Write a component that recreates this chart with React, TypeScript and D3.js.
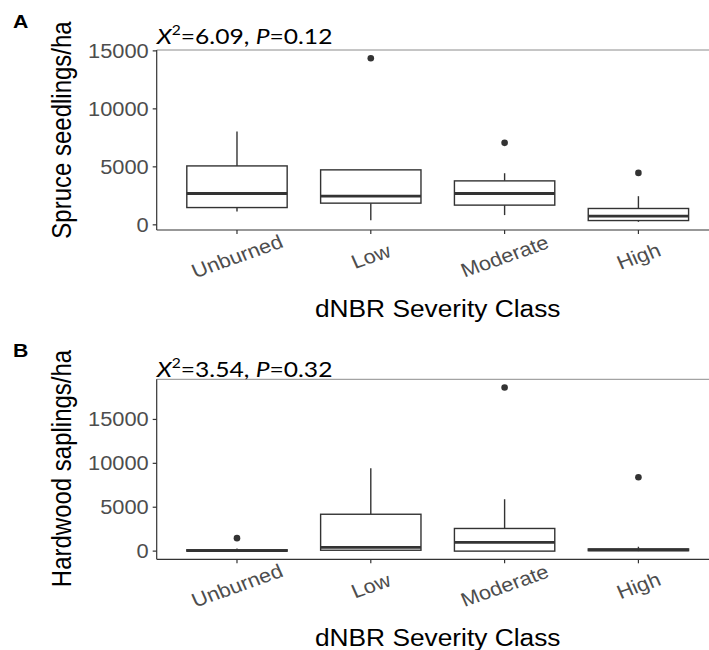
import React from "react";
import * as d3 from "d3";

const categories = ["Unburned", "Low", "Moderate", "High"];

const spruceLower = [1150, 400, 840, 260];
const spruceQ1 = [1490, 1870, 1700, 370];
const spruceMedian = [2700, 2470, 2700, 750];
const spruceQ3 = [5080, 4740, 3790, 1410];
const spruceUpper = [8040, 4740, 4450, 2470];
const spruceOutliers: number[][] = [[], [14370], [7070], [4480]];

const hardLower = [0, 0, 0, 0];
const hardQ1 = [0, 100, 0, 50];
const hardMedian = [50, 420, 990, 150];
const hardQ3 = [150, 4200, 2580, 250];
const hardUpper = [300, 9430, 5910, 500];
const hardOutliers: number[][] = [[1480], [], [18640], [8410]];

const yTicks = [0, 5000, 10000, 15000];

const SX = 1.12;
const AXIS_COL = "#333333";
const TEXT_GRAY = "#4d4d4d";
const FONT = "'Liberation Sans', Arial, sans-serif";

type PanelProps = {
  letter: string;
  stat: string;
  p: string;
  yTitle: string;
  lower: number[];
  q1: number[];
  median: number[];
  q3: number[];
  upper: number[];
  outliers: number[][];
  top: number;
  bottom: number;
  letterY: number;
  titleY: number;
  yTitleY: number;
};

function Panel(props: PanelProps) {
  const left = 156.7;
  const right = 718.7;
  const { top, bottom } = props;
  const x = d3.scalePoint<string>().domain(categories).range([left, right]).padding(0.6);
  const step = x.step();
  const bw = step * 0.75;
  const all = [...props.lower, ...props.upper, ...props.outliers.flat()];
  const mn = d3.min(all) as number;
  const mx = d3.max(all) as number;
  const ex = (mx - mn) * 0.05;
  const y = d3.scaleLinear().domain([mn - ex, mx + ex]).range([bottom, top]);

  return (
    <g>
      <text
        transform={`translate(13,${props.letterY}) scale(${SX},1)`}
        fontFamily={FONT}
        fontWeight="bold"
        fontSize={19}
        fill="#000"
      >
        {props.letter}
      </text>
      <text
        transform={`translate(${left},${props.titleY}) scale(${SX},1)`}
        fontFamily="Lato, 'Open Sans', sans-serif"
        fontSize={22}
        fill="#000"
      >
        <tspan fontStyle="italic">X</tspan>
        <tspan fontSize={14} dy={-9}>2</tspan>
        <tspan dy={9}>{`=${props.stat}, `}</tspan>
        <tspan fontStyle="italic">P</tspan>
        <tspan>{`=${props.p}`}</tspan>
      </text>
      <line x1={left} x2={right} y1={top} y2={top} stroke="#8c8c8c" strokeWidth={1} />
      {categories.map((c, i) => {
        const cx = x(c) as number;
        return (
          <g key={c} stroke={AXIS_COL} fill="none">
            <line x1={cx} x2={cx} y1={y(props.q3[i])} y2={y(props.upper[i])} strokeWidth={1.4} />
            <line x1={cx} x2={cx} y1={y(props.q1[i])} y2={y(props.lower[i])} strokeWidth={1.4} />
            <rect
              x={cx - bw / 2}
              width={bw}
              y={y(props.q3[i])}
              height={Math.max(0, y(props.q1[i]) - y(props.q3[i]))}
              fill="#fff"
              strokeWidth={1.4}
            />
            <line
              x1={cx - bw / 2}
              x2={cx + bw / 2}
              y1={y(props.median[i])}
              y2={y(props.median[i])}
              strokeWidth={2.8}
            />
            {props.outliers[i].map((o, j) => (
              <circle key={j} cx={cx} cy={y(o)} r={3.3} fill={AXIS_COL} stroke="none" />
            ))}
          </g>
        );
      })}
      <line x1={left} x2={left} y1={top} y2={bottom} stroke={AXIS_COL} strokeWidth={1.2} />
      {yTicks.map((t) => (
        <g key={t}>
          <line x1={left - 4} x2={left} y1={y(t)} y2={y(t)} stroke={AXIS_COL} strokeWidth={1.2} />
          <text
            transform={`translate(${left - 8},${y(t)}) scale(${SX},1)`}
            textAnchor="end"
            dy="0.36em"
            fontFamily={FONT}
            fontSize={19.5}
            fill={TEXT_GRAY}
          >
            {t}
          </text>
        </g>
      ))}
      <line x1={left} x2={right} y1={bottom} y2={bottom} stroke={AXIS_COL} strokeWidth={1.2} />
      {categories.map((c) => (
        <g key={c}>
          <line x1={x(c)} x2={x(c)} y1={bottom} y2={bottom + 4} stroke={AXIS_COL} strokeWidth={1.2} />
          <text
            transform={`translate(${x(c)},${bottom + 26}) scale(${SX},1) rotate(-21.5)`}
            textAnchor="middle"
            dy="0.36em"
            fontFamily={FONT}
            fontSize={19.5}
            fill={TEXT_GRAY}
          >
            {c}
          </text>
        </g>
      ))}
      <text
        transform={`translate(${(left + right) / 2},${bottom + 87}) scale(${SX},1)`}
        textAnchor="middle"
        fontFamily={FONT}
        fontSize={23.5}
        fill="#000"
      >
        dNBR Severity Class
      </text>
      <text
        transform={`translate(71,${props.yTitleY}) scale(${SX},1) rotate(-90)`}
        textAnchor="middle"
        fontFamily={FONT}
        fontSize={24}
        fill="#000"
      >
        {props.yTitle}
      </text>
    </g>
  );
}

export default function App() {
  return (
    <svg
      width={709}
      height={650}
      style={{ position: "absolute", left: 0, top: 0, background: "#fff" }}
    >
      <rect width={709} height={650} fill="#fff" />
      <Panel
        letter="A"
        stat="6.09"
        p="0.12"
        yTitle="Spruce seedlings/ha"
        lower={spruceLower}
        q1={spruceQ1}
        median={spruceMedian}
        q3={spruceQ3}
        upper={spruceUpper}
        outliers={spruceOutliers}
        top={50}
        bottom={230}
        letterY={28}
        titleY={44}
        yTitleY={130}
      />
      <Panel
        letter="B"
        stat="3.54"
        p="0.32"
        yTitle="Hardwood saplings/ha"
        lower={hardLower}
        q1={hardQ1}
        median={hardMedian}
        q3={hardQ3}
        upper={hardUpper}
        outliers={hardOutliers}
        top={379.3}
        bottom={559.3}
        letterY={357}
        titleY={377}
        yTitleY={468.5}
      />
    </svg>
  );
}
